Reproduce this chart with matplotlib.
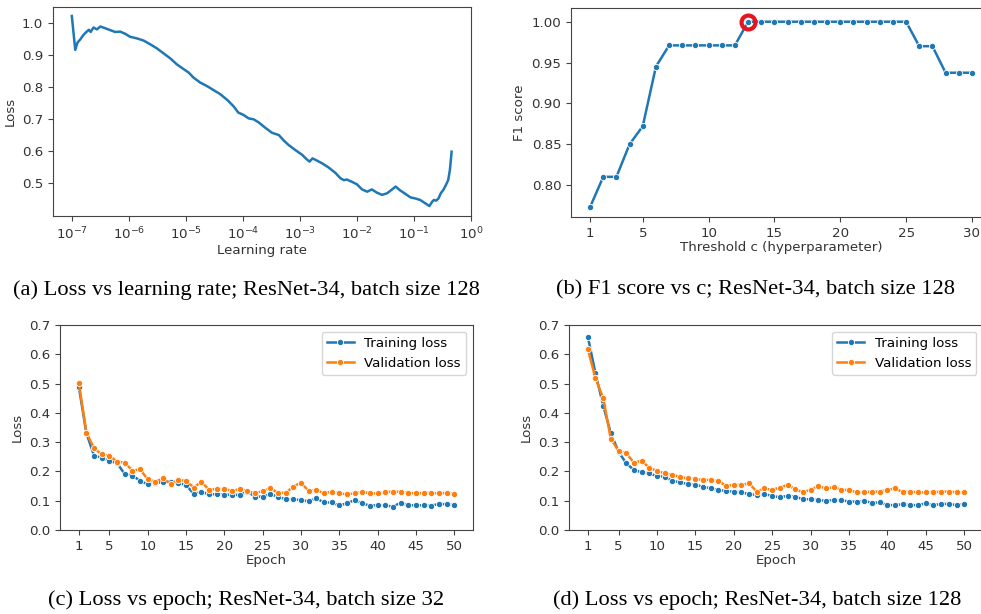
import matplotlib
matplotlib.use("Agg")
import matplotlib.pyplot as plt
import numpy as np

# (a) loss vs learning rate
lr_exp = [-7.0, -6.97, -6.94, -6.9, -6.85, -6.8, -6.75, -6.7, -6.67, -6.62,
          -6.56, -6.5, -6.42, -6.33, -6.24, -6.15, -6.06, -5.98, -5.86, -5.74,
          -5.63, -5.51, -5.39, -5.27, -5.16, -5.04, -4.95, -4.87, -4.75, -4.63,
          -4.52, -4.4, -4.27, -4.16, -4.08, -3.99, -3.9, -3.81, -3.72, -3.61,
          -3.49, -3.37, -3.29, -3.2, -3.08, -2.96, -2.88, -2.83, -2.78, -2.7,
          -2.61, -2.5, -2.38, -2.29, -2.23, -2.18, -2.09, -2.0, -1.91, -1.82,
          -1.74, -1.65, -1.56, -1.47, -1.4, -1.32, -1.25, -1.15, -1.06, -0.98,
          -0.89, -0.8, -0.73, -0.68, -0.65, -0.61, -0.57, -0.53, -0.48, -0.44,
          -0.4, -0.37, -0.34]
lr_loss = [1.023, 0.97, 0.917, 0.94, 0.95, 0.963, 0.972, 0.98, 0.973, 0.987,
           0.981, 0.99, 0.985, 0.979, 0.973, 0.974, 0.967, 0.958, 0.953, 0.946,
           0.935, 0.922, 0.906, 0.89, 0.872, 0.857, 0.846, 0.831, 0.815, 0.804,
           0.792, 0.779, 0.76, 0.74, 0.721, 0.714, 0.703, 0.7, 0.69, 0.674,
           0.658, 0.651, 0.635, 0.62, 0.604, 0.589, 0.575, 0.568, 0.578, 0.571,
           0.5625, 0.55, 0.533, 0.516, 0.51, 0.512, 0.505, 0.497, 0.481, 0.474,
           0.481, 0.471, 0.464, 0.469, 0.479, 0.49, 0.479, 0.467, 0.456, 0.453,
           0.448, 0.4375, 0.429, 0.443, 0.448, 0.446, 0.453, 0.469, 0.481, 0.495,
           0.51, 0.542, 0.599]

# (b) F1 score vs threshold c
thresholds = list(range(1, 31))
f1_scores = [0.773, 0.81, 0.81, 0.85, 0.872, 0.945, 0.971, 0.971, 0.971, 0.971,
             0.971, 0.971, 1.0, 1.0, 1.0, 1.0, 1.0, 1.0, 1.0, 1.0,
             1.0, 1.0, 1.0, 1.0, 1.0, 0.97, 0.97, 0.9375, 0.9375, 0.9375]
best_c = 13

# (c) batch size 32
epochs = list(range(1, 51))
train_32 = [0.49, 0.33, 0.254, 0.247, 0.236, 0.228, 0.191, 0.186, 0.168, 0.156,
            0.159, 0.165, 0.165, 0.16, 0.154, 0.123, 0.13, 0.122, 0.122, 0.121,
            0.12, 0.12, 0.131, 0.114, 0.114, 0.122, 0.114, 0.105, 0.105, 0.102,
            0.098, 0.108, 0.094, 0.094, 0.084, 0.091, 0.102, 0.091, 0.083, 0.085,
            0.084, 0.08, 0.093, 0.084, 0.085, 0.084, 0.083, 0.089, 0.088, 0.085]
val_32 = [0.503, 0.332, 0.279, 0.258, 0.254, 0.233, 0.23, 0.203, 0.207, 0.173,
          0.165, 0.176, 0.157, 0.171, 0.168, 0.145, 0.165, 0.137, 0.14, 0.14,
          0.134, 0.139, 0.134, 0.125, 0.133, 0.142, 0.127, 0.127, 0.148, 0.162,
          0.133, 0.137, 0.125, 0.131, 0.125, 0.122, 0.125, 0.131, 0.125, 0.125,
          0.129, 0.131, 0.13, 0.127, 0.125, 0.127, 0.127, 0.125, 0.127, 0.123]

# (d) batch size 128
train_128 = [0.66, 0.535, 0.425, 0.33, 0.267, 0.228, 0.205, 0.197, 0.193, 0.184,
             0.182, 0.168, 0.163, 0.157, 0.154, 0.148, 0.142, 0.137, 0.133, 0.131,
             0.129, 0.122, 0.12, 0.122, 0.117, 0.111, 0.117, 0.114, 0.105, 0.105,
             0.102, 0.1, 0.102, 0.102, 0.097, 0.097, 0.099, 0.093, 0.094, 0.085,
             0.085, 0.088, 0.085, 0.085, 0.091, 0.085, 0.089, 0.089, 0.085, 0.088]
val_128 = [0.618, 0.518, 0.45, 0.311, 0.271, 0.262, 0.23, 0.236, 0.213, 0.201,
           0.194, 0.188, 0.182, 0.176, 0.174, 0.171, 0.171, 0.167, 0.151, 0.154,
           0.154, 0.159, 0.131, 0.142, 0.137, 0.145, 0.154, 0.139, 0.129, 0.137,
           0.15, 0.142, 0.146, 0.137, 0.137, 0.129, 0.129, 0.131, 0.131, 0.137,
           0.142, 0.129, 0.131, 0.129, 0.129, 0.129, 0.131, 0.131, 0.129, 0.129]

captions = ["(a) Loss vs learning rate; ResNet-34, batch size 128",
            "(b) F1 score vs c; ResNet-34, batch size 128",
            "(c) Loss vs epoch; ResNet-34, batch size 32",
            "(d) Loss vs epoch; ResNet-34, batch size 128"]

BLUE = "#1f77b4"
ORANGE = "#ff7f0e"

plt.rcParams["font.family"] = ["DejaVu Sans"]
plt.rcParams["font.size"] = 9.6
plt.rcParams["axes.edgecolor"] = "#444444"
plt.rcParams["xtick.color"] = "#444444"
plt.rcParams["ytick.color"] = "#444444"
plt.rcParams["xtick.labelcolor"] = "#333333"
plt.rcParams["ytick.labelcolor"] = "#333333"
plt.rcParams["axes.labelcolor"] = "#333333"

W, H = 981, 614
fig = plt.figure(figsize=(W / 100, H / 100), dpi=100)


def box(left, top, right, bottom):
    return [left / W, 1 - bottom / H, (right - left) / W, (bottom - top) / H]


marker_kw = dict(marker="o", markersize=4.5, markeredgecolor="white", markeredgewidth=0.6)

# panel (a)
ax_a = fig.add_axes(box(53, 7, 471, 216))
ax_a.plot([10 ** e for e in lr_exp], lr_loss, color=BLUE, lw=1.8)
ax_a.set_xscale("log")
ax_a.set_xlim(10 ** -7.33, 1)
ax_a.set_ylim(0.398, 1.051)
ax_a.set_xticks([10.0 ** k for k in range(-7, 1)])
ax_a.xaxis.set_minor_locator(matplotlib.ticker.NullLocator())
ax_a.set_yticks([0.5, 0.6, 0.7, 0.8, 0.9, 1.0])
ax_a.set_xlabel("Learning rate", labelpad=1)
ax_a.set_ylabel("Loss")

# panel (b)
ax_b = fig.add_axes(box(571, 8, 991, 217))
ax_b.plot(thresholds, f1_scores, color=BLUE, lw=1.8, **marker_kw)
ax_b.plot([best_c], [f1_scores[thresholds.index(best_c)]], marker="o", markersize=10,
          markerfacecolor="none", markeredgecolor="#e8141c", markeredgewidth=3)
ax_b.set_xlim(-0.45, 31.45)
ax_b.set_ylim(0.7608, 1.0168)
ax_b.set_xticks([1, 5, 10, 15, 20, 25, 30])
ax_b.set_yticks([0.80, 0.85, 0.90, 0.95, 1.00])
ax_b.yaxis.set_major_formatter(matplotlib.ticker.FormatStrFormatter("%.2f"))
ax_b.set_xlabel("Threshold c (hyperparameter)", labelpad=1)
ax_b.set_ylabel("F1 score")

# panels (c) and (d)
for pos, train, val in [((60, 325, 473, 530), train_32, val_32),
                        ((569, 325, 983, 530), train_128, val_128)]:
    ax = fig.add_axes(box(*pos))
    ax.plot(epochs, train, color=BLUE, lw=1.8, label="Training loss", **marker_kw)
    ax.plot(epochs, val, color=ORANGE, lw=1.8, label="Validation loss", **marker_kw)
    ax.set_xlim(-1.45, 52.45)
    ax.set_ylim(0, 0.7)
    ax.set_xticks([1, 5, 10, 15, 20, 25, 30, 35, 40, 45, 50])
    ax.set_yticks(np.arange(0, 0.71, 0.1))
    ax.yaxis.set_major_formatter(matplotlib.ticker.FormatStrFormatter("%.1f"))
    ax.set_xlabel("Epoch", labelpad=1)
    ax.set_ylabel("Loss")
    ax.legend(loc="upper right", fontsize=9.6)

cap_kw = dict(family="Liberation Serif", fontsize=16.2, ha="center", va="center")
fig.text(246 / W, 1 - 290 / H, captions[0], **cap_kw)
fig.text(756 / W, 1 - 290 / H, captions[1], **cap_kw)
fig.text(246 / W, 1 - 600 / H, captions[2], **cap_kw)
fig.text(757 / W, 1 - 600 / H, captions[3], **cap_kw)

fig.savefig("out.png", dpi=100)
